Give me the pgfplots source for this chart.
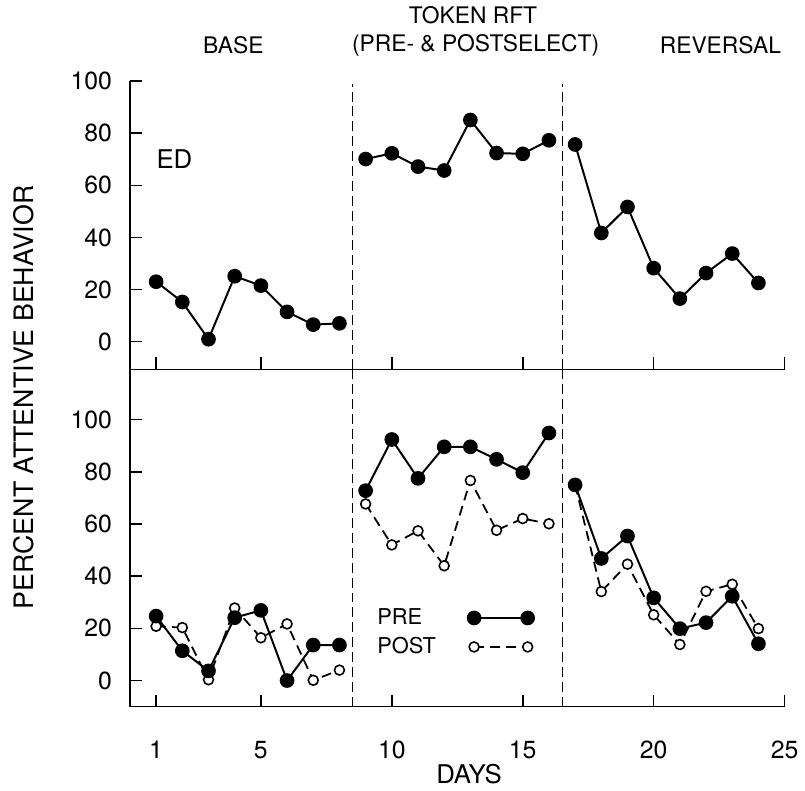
\documentclass[border=0pt]{standalone}
\usepackage{pgfplots}
\usepackage{pgfplotstable}
\usepackage{fontspec}
\setmainfont{TeX Gyre Heros}
\pgfplotsset{compat=1.18}

% ED, top panel: one series, nan rows break the line between phases
\pgfplotstableread{
day val
1 23
2 15.2
3 0.9
4 25.1
5 21.5
6 11.4
7 6.5
8 7
8.5 nan
9 70.1
10 72.3
11 67.2
12 65.7
13 85.1
14 72.4
15 72.1
16 77.3
16.5 nan
17 75.7
18 41.7
19 51.7
20 28.2
21 16.5
22 26.3
23 33.8
24 22.5
}\topdata

% bottom panel: pre- and postselect
\pgfplotstableread{
day pre post
1 24.7 20.8
2 11.4 20.3
3 3.7 0.3
4 24.1 27.8
5 26.9 16.4
6 0 21.7
7 13.6 0.1
8 13.6 4
8.5 nan nan
9 72.8 67.7
10 92.4 52
11 77.5 57.4
12 89.6 44
13 89.6 76.7
14 84.8 57.6
15 79.7 62.1
16 94.9 60.1
16.5 nan nan
17 75 75
18 46.8 34.1
19 55.4 44.6
20 31.7 25.2
21 19.9 13.8
22 22.2 34.2
23 32.3 36.9
24 14.1 19.9
}\botdata

\pgfplotsset{
  panel/.style={
    scale only axis,
    width=330pt,
    xmin=0, xmax=25,
    axis x line=bottom, axis y line=left,
    axis line style={-, line width=0.8pt},
    tick style={line width=0.8pt, black},
    tick align=inside,
    major tick length=6pt,
    xtick={1,5,10,15,20,25},
    ytick={0,20,40,60,80,100},
    ticklabel style={font=\fontsize{12.5}{14}\selectfont},
    /pgf/number format/assume math mode=true,
    yticklabel style={xshift=-5.5pt},
    unbounded coords=jump,
    clip=false,
  },
  phase/.style={black, line width=0.5pt, dash pattern=on 5pt off 2.5pt, forget plot},
}
\tikzset{ttl/.style={font=\fontsize{11.5}{13}\selectfont}}

\begin{document}
\begin{tikzpicture}
\begin{axis}[panel, name=bot, at={(0,0)}, anchor=south west,
    height=170pt, ymin=-10, ymax=119.3,
    xticklabel style={yshift=-14pt},
    reverse legend,
    legend plot pos=right,
    legend cell align=left,
    legend style={at={(axis cs:9.05,18.4)}, anchor=west, draw=none, fill=none,
      font=\fontsize{11}{12}\selectfont, row sep=1pt,
      /tikz/every odd column/.append style={column sep=14pt}},
    legend image code/.code={\draw[#1] plot coordinates {(0pt,0pt) (27pt,0pt)};},
  ]
  \addplot[phase] coordinates {(8.5,-10) (8.5,119.3)};
  \addplot[phase] coordinates {(16.5,-10) (16.5,119.3)};
  \addplot[black, line width=0.9pt, dash pattern=on 5pt off 3pt,
    mark=*, mark size=2.5pt, mark options={solid, fill=white, line width=0.8pt}]
    table[x=day, y=post] {\botdata};
  \addlegendentry{POST}
  \addplot[black, line width=1pt, mark=*, mark size=3.2pt]
    table[x=day, y=pre] {\botdata};
  \addlegendentry{PRE}
  \node[rotate=90, font=\fontsize{13.5}{15}\selectfont] at (axis cs:-4.05,108.6) {PERCENT ATTENTIVE BEHAVIOR};
  \node[font=\fontsize{13}{15}\selectfont] at (axis cs:12.95,-36) {DAYS};
\end{axis}

\begin{axis}[panel, at={(bot.north west)}, anchor=south west,
    height=145.25pt, ymin=-10.67, ymax=100,
    xticklabels={},
  ]
  \addplot[phase] coordinates {(8.5,-10.67) (8.5,99)};
  \addplot[phase] coordinates {(16.5,-10.67) (16.5,99)};
  \addplot[black, line width=1pt, mark=*, mark size=3.2pt]
    table[x=day, y=val] {\topdata};
  \node[font=\fontsize{13}{15}\selectfont] at (axis cs:1.7,70) {ED};
  \node[ttl] at (axis cs:3.95,113.9) {BASE};
  \node[ttl] at (axis cs:13.1,125.3) {TOKEN RFT};
  \node[ttl] at (axis cs:13.2,113.9) {(PRE- \& POSTSELECT)};
  \node[ttl] at (axis cs:22.55,113.9) {REVERSAL};
\end{axis}

% fix the page to the reference's proportions
\path (bot.south west) ++(-65.5pt,-40pt) rectangle ++(402.5pt,396pt);
\end{tikzpicture}
\end{document}
